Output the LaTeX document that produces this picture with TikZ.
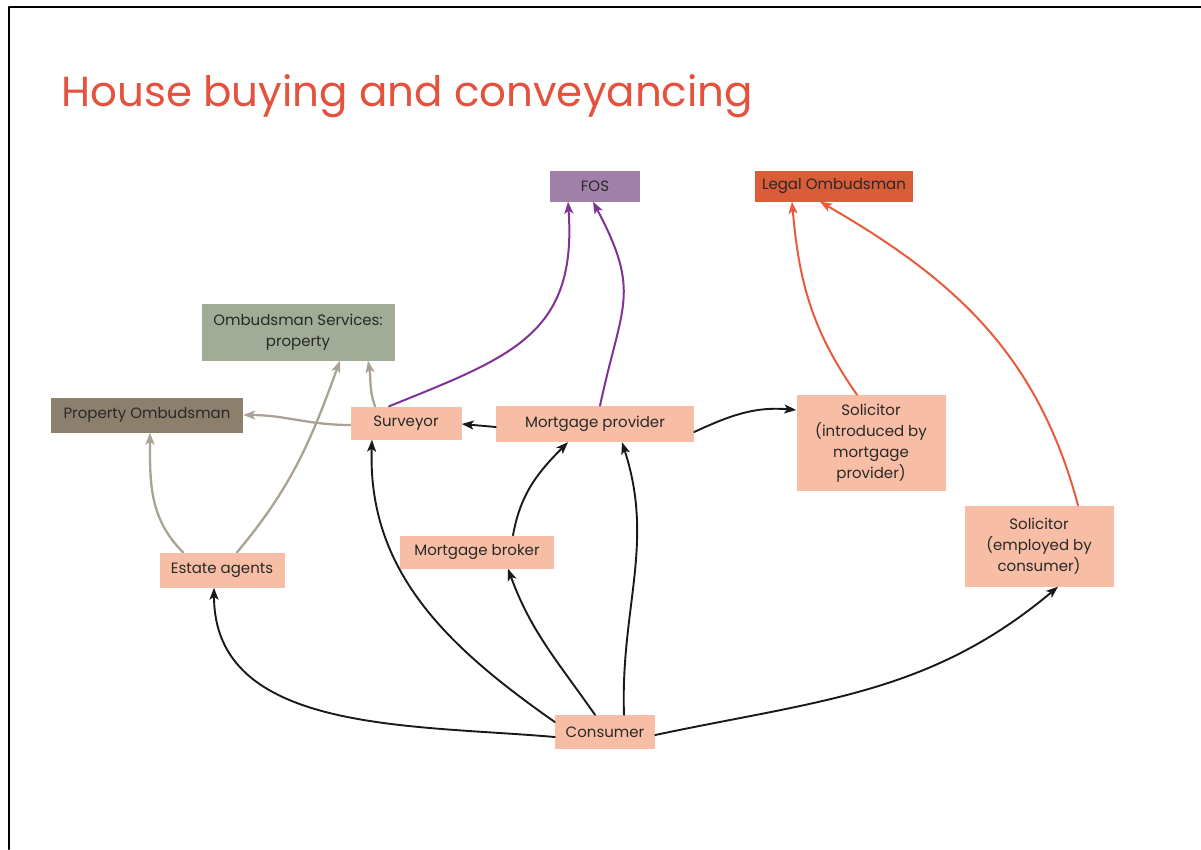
\documentclass[tikz,border=0pt]{standalone}
\usepackage{fontspec}
\setmainfont{Poppins}
\usetikzlibrary{arrows.meta}
\definecolor{peach}{RGB}{248,190,165}
\definecolor{fosfill}{RGB}{160,128,168}
\definecolor{legalfill}{RGB}{218,92,56}
\definecolor{servfill}{RGB}{160,172,150}
\definecolor{propfill}{RGB}{140,128,108}
\definecolor{fosline}{RGB}{128,50,150}
\definecolor{legalline}{RGB}{232,90,60}
\definecolor{greyline}{RGB}{170,162,148}
\definecolor{titlered}{RGB}{228,82,62}
\definecolor{boxtext}{RGB}{40,40,40}
\begin{document}
\begin{tikzpicture}[x=1pt, y=1pt, line join=round, line cap=round, >={Stealth[length=12pt,width=9pt,inset=3pt]},
	box/.style={fill=peach, text=boxtext, inner sep=0pt, align=center, font=\fontsize{15}{21}\selectfont},
	black link/.style={->, line width=1.9pt, black!90},
	fos link/.style={->, line width=2pt, fosline},
	legal link/.style={->, line width=2pt, legalline},
	grey link/.style={->, line width=2.3pt, greyline}]
	\useasboundingbox (0,-849) rectangle (1201,0);
	\draw[line width=2pt] (9,-849) -- (9,-7) -- (1201,-7);
	\node[anchor=base west, text=titlered, font=\fontsize{42}{50}\selectfont] (title) at (58,-106) {House buying and conveyancing};
	% ombudsman boxes
	\node[box, fill=fosfill, minimum width=90pt, minimum height=31pt] (fos) at (595,-186) {FOS};
	\node[box, fill=legalfill, minimum width=158pt, minimum height=31pt] (legal) at (834,-186) {Legal Ombudsman};
	\node[box, fill=servfill, minimum width=193pt, minimum height=57pt] (serv) at (298,-332) {Ombudsman Services:\\property};
	\node[box, fill=propfill, minimum width=192pt, minimum height=35pt] (prop) at (147,-415) {Property Ombudsman};
	% parties
	\node[box, minimum width=111pt, minimum height=33pt] (surveyor) at (406,-423) {Surveyor};
	\node[box, minimum width=198pt, minimum height=36pt] (provider) at (595,-424) {Mortgage provider};
	\node[box, minimum width=149pt, minimum height=96pt] (solint) at (871,-443) {Solicitor\\(introduced by\\mortgage\\provider)};
	\node[box, minimum width=154pt, minimum height=33pt] (broker) at (477,-552) {Mortgage broker};
	\node[box, minimum width=125pt, minimum height=35pt] (estate) at (222,-570) {Estate agents};
	\node[box, minimum width=149pt, minimum height=81pt] (solemp) at (1039,-546) {Solicitor\\(employed by\\consumer)};
	\node[box, minimum width=100pt, minimum height=34pt] (consumer) at (605,-732) {Consumer};
	% complaints routes
	\draw[fos link] ([xshift=-17pt]surveyor.north) to[out=22, in=-86, looseness=1.25] ([xshift=-27pt]fos.south);
	\draw[fos link] ([xshift=5pt]provider.north) to[out=78, in=-62, looseness=1.3] ([xshift=-2pt]fos.south);
	\draw[legal link] ([xshift=-14pt]solint.north) to[out=125, in=-85] ([xshift=-42pt]legal.south);
	\draw[legal link] ([xshift=39pt]solemp.north) to[out=105, in=-30] ([xshift=-14pt]legal.south);
	\draw[grey link] ([yshift=-2pt]surveyor.west) to[out=180, in=0] (prop.east);
	\draw[grey link] ([xshift=-31pt]surveyor.north) to[out=110, in=-80] ([xshift=70pt]serv.south);
	\draw[grey link] ([xshift=15pt]estate.north) to[out=50, in=-110] ([xshift=42pt]serv.south);
	\draw[grey link] ([xshift=-39pt]estate.north) to[out=135, in=-90] ([xshift=3pt]prop.south);
	% who instructs whom
	\draw[black link] ([yshift=-3pt]provider.west) -- ([yshift=-1pt]surveyor.east);
	\draw[black link] ([yshift=-8pt]provider.east) to[out=25, in=175] ([yshift=33pt]solint.west);
	\draw[black link] ([xshift=36pt]broker.north) to[out=80, in=-135] ([xshift=-27pt]provider.south);
	\draw[black link] ([xshift=19pt]consumer.north) to[out=92, in=-72] ([xshift=27pt]provider.south);
	\draw[black link] ([xshift=-10pt]consumer.north) to[out=125, in=-70] ([xshift=31pt]broker.south);
	\draw[black link] ([yshift=10pt]consumer.west) to[out=145, in=-92] ([xshift=-34pt]surveyor.south);
	\draw[black link] ([yshift=-5pt]consumer.west) to[out=175, in=-90] ([xshift=-8pt]estate.south);
	\draw[black link] ([yshift=-3pt]consumer.east) to[out=12, in=-140] ([xshift=19pt]solemp.south);
\end{tikzpicture}
\end{document}
